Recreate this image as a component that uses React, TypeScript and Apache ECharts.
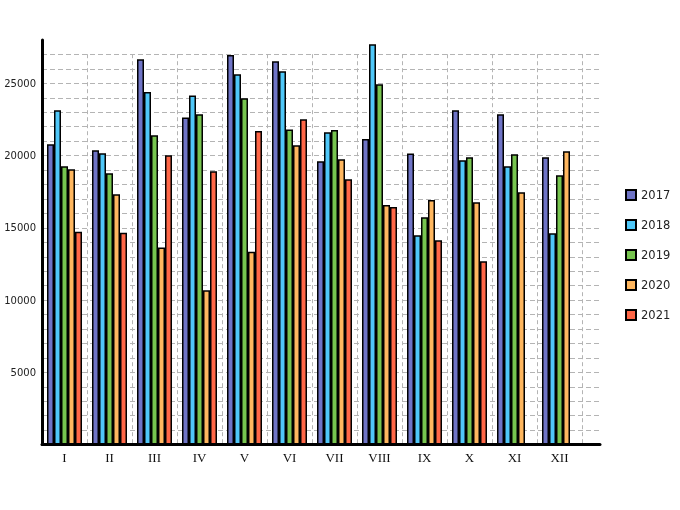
import React, { useEffect, useRef } from "react";
import * as echarts from "echarts";

const months = ["I", "II", "III", "IV", "V", "VI", "VII", "VIII", "IX", "X", "XI", "XII"];
const years = ["2017", "2018", "2019", "2020", "2021"];
const colors = ["#6f74c6", "#4fc8f9", "#77c54f", "#ffb75f", "#ff6747"];

const v2017 = [20770, 20350, 26650, 22630, 26940, 26510, 19590, 21130, 20140, 23120, 22840, 19870];
const v2018 = [23120, 20150, 24380, 24150, 25610, 25820, 21600, 27680, 14470, 19660, 19250, 14610];
const v2019 = [19250, 18760, 21390, 22840, 23950, 21800, 21760, 24920, 15720, 19870, 20080, 18620];
const v2020 = [19040, 17310, 13640, 10670, 13340, 20700, 19730, 16570, 16920, 16760, 17450, 20280];
const v2021 = [14720, 14650, 20010, 18900, 21690, 22500, 18350, 16430, 14130, 12680, 0, 0];

const seriesValues = [v2017, v2018, v2019, v2020, v2021];
const yTickLabels = [5000, 10000, 15000, 20000, 25000];

export default function App() {
  const ref = useRef<HTMLDivElement>(null);
  useEffect(() => {
    document.body.style.margin = "0";
    const chart = echarts.init(ref.current!, null, { renderer: "svg" });
    const gridLineColors: string[] = [];
    for (let i = 0; i <= 28; i++) gridLineColors.push(i === 28 ? "rgba(0,0,0,0)" : "#b4b4b4");
    chart.setOption({
      animation: false,
      grid: [
        { left: 42, right: 80, top: 40, bottom: 65.4 },
        { left: 42, right: 98, top: 54.2, bottom: 65.4 },
      ],
      legend: {
        orient: "vertical",
        left: 620,
        top: 184,
        itemWidth: 10,
        itemHeight: 10,
        itemGap: 18,
        icon: "rect",
        textStyle: { fontFamily: "DejaVu Sans", fontSize: 11.5, color: "#222", lineHeight: 12 },
        data: years,
      },
      xAxis: [
        {
          gridIndex: 0,
          type: "value",
          min: 0,
          max: 1,
          axisLine: { show: true, lineStyle: { color: "#000", width: 3 } },
          axisTick: { show: false },
          axisLabel: { show: false },
          splitLine: { show: false },
        },
        {
          gridIndex: 1,
          type: "category",
          data: months,
          axisLine: { show: false },
          axisTick: { show: false },
          axisLabel: { fontFamily: "Liberation Serif", fontSize: 13, color: "#111", margin: 6 },
          splitLine: { show: true, lineStyle: { color: "#b4b4b4", type: [4, 3], width: 1 } },
        },
      ],
      yAxis: [
        {
          gridIndex: 0,
          type: "value",
          min: 0,
          max: 28000,
          interval: 1000,
          axisLine: { show: true, lineStyle: { color: "#000", width: 3 } },
          axisTick: { show: false },
          axisLabel: {
            fontFamily: "DejaVu Sans",
            fontSize: 10,
            color: "#222",
            margin: 6,
            formatter: (v: number) => (yTickLabels.indexOf(v) >= 0 ? String(v) : ""),
          },
          splitLine: { show: true, lineStyle: { color: gridLineColors, type: [5, 3], width: 1 } },
        },
        {
          gridIndex: 1,
          type: "value",
          min: 0,
          max: 27000,
          show: false,
          splitLine: { show: false },
        },
      ],
      series: years.map((y, i) => ({
        name: y,
        type: "bar",
        xAxisIndex: 1,
        yAxisIndex: 1,
        data: seriesValues[i],
        barWidth: 7,
        barGap: "0%",
        clip: false,
        itemStyle: { color: colors[i], borderColor: "#000", borderWidth: 1.5 },
      })),
    });
    return () => chart.dispose();
  }, []);
  return <div ref={ref} style={{ position: "fixed", left: 0, top: 0, width: 680, height: 510 }} />;
}
